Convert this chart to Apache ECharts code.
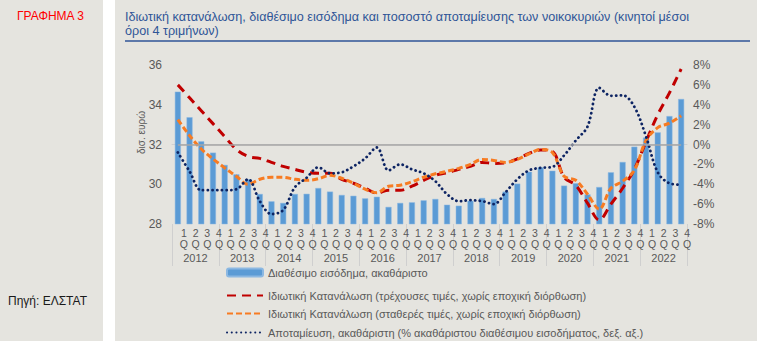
<!DOCTYPE html>
<html>
<head>
<meta charset="utf-8">
<script src="https://cdn.jsdelivr.net/npm/echarts@6/dist/echarts.min.js"></script>
<style>
html,body{margin:0;padding:0;background:#e5e4df;}
#chart{width:757px;height:341px;}
</style>
</head>
<body>
<div id="chart"></div>
<script>
// ---- data ----
const years = ['2012','2013','2014','2015','2016','2017','2018','2019','2020','2021','2022'];
const quarterNums = ['1','2','3','4'];
const categories = [];
years.forEach(y => quarterNums.forEach(q => categories.push(y + 'Q' + q)));

const leftTicks = [28, 36, 2];   // min, max, interval (δισ. ευρώ)
const rightTicks = [-8, 8, 2];   // min, max, interval (%)

// Διαθέσιμο εισόδημα, ακαθάριστο (δισ. ευρώ)
const disposableIncome = [
  34.66, 33.37, 32.16, 31.59,
  30.97, 30.50, 30.25, 29.51,
  29.14, 29.06, 29.51, 29.52,
  29.81, 29.63, 29.46, 29.42,
  29.29, 29.37, 28.86, 29.06,
  29.09, 29.19, 29.26, 28.97,
  28.92, 29.17, 29.31, 29.26,
  29.63, 30.03, 30.63, 30.85,
  30.68, 29.93, 30.05, 29.49,
  29.86, 30.60, 31.12, 31.89,
  32.35, 32.61, 33.43, 34.29
];
// Ιδιωτική Κατανάλωση (τρέχουσες τιμές) %
const consCurrent = [
  6.0, 4.7, 3.4, 2.1,
  0.8, -0.5, -1.2, -1.4,
  -1.8, -2.2, -2.5, -2.8,
  -2.9, -2.9, -3.5, -3.9,
  -4.4, -4.9, -4.6, -4.6,
  -4.2, -3.6, -3.1, -2.85,
  -2.5, -2.2, -1.8, -1.9,
  -1.85, -1.45, -0.9, -0.55,
  -0.7, -3.3, -4.1, -5.9,
  -7.6, -6.0, -4.4, -2.5,
  0.3, 3.0, 5.2, 7.6
];
// Ιδιωτική Κατανάλωση (σταθερές τιμές) %
const consConstant = [
  2.5, 0.9, -0.45, -1.45,
  -2.35, -3.2, -4.0, -3.5,
  -3.3, -3.3, -3.5, -3.6,
  -3.45, -3.1, -3.4, -3.9,
  -4.5, -4.85, -4.2, -4.1,
  -3.75, -3.3, -2.95, -2.7,
  -2.4, -2.0, -1.5, -1.6,
  -1.8, -1.5, -0.95, -0.5,
  -0.8, -3.2, -3.6, -5.0,
  -6.5, -4.4, -3.7, -2.6,
  0.4, 1.7, 2.15, 2.9
];
// Αποταμίευση, ακαθάριστη (% ακαθάριστου διαθέσιμου εισοδήματος)
const savingRate = [
  -0.8, -2.7, -4.6, -4.6,
  -4.6, -4.5, -3.5, -5.7,
  -7.0, -6.6, -4.3, -3.35,
  -2.3, -2.9, -2.8, -2.2,
  -1.4, -0.3, -2.6, -2.0,
  -2.5, -2.9, -3.7, -5.0,
  -5.7, -5.6, -5.7, -6.0,
  -4.8, -3.5, -2.6, -2.35,
  -2.25, -1.1, 0.4, 1.8,
  5.7, 4.9, 4.95, 3.8,
  0.8, -2.8, -3.9, -4.05
];

const names = [
  'Διαθέσιμο εισόδημα, ακαθάριστο',
  'Ιδιωτική Κατανάλωση (τρέχουσες τιμές, χωρίς εποχική διόρθωση)',
  'Ιδιωτική Κατανάλωση (σταθερές τιμές, χωρίς εποχική διόρθωση)',
  'Αποταμίευση, ακαθάριστη (% ακαθάριστου διαθέσιμου εισοδήματος, δεξ. αξ.)'
];

const FONT = '"Liberation Sans", Arial, sans-serif';
const GRAY = '#595959';

const chart = echarts.init(document.getElementById('chart'), null, {renderer: 'svg'});

function legendItem(name, top, hideSymbol) {
  return {
    data: [hideSymbol ? {name: name, itemStyle: {opacity: 0}} : {name: name}],
    left: 226, top: top, orient: 'vertical',
    itemWidth: 36, itemHeight: 8, itemGap: 0, padding: 0,
    textStyle: {color: GRAY, fontSize: 11, fontFamily: FONT},
    selectedMode: false
  };
}

chart.setOption({
  backgroundColor: '#e5e4df',
  animation: false,
  textStyle: {fontFamily: FONT},
  title: {
    text: 'Ιδιωτική κατανάλωση, διαθέσιμο εισόδημα και ποσοστό αποταμίευσης των νοικοκυριών (κινητοί μέσοι\nόροι 4 τριμήνων)',
    left: 120, top: 5,
    textStyle: {color: '#2f5597', fontSize: 12.6, fontWeight: 'normal', lineHeight: 14, fontFamily: FONT}
  },
  graphic: [
    {type: 'rect', left: 103, top: 0, shape: {width: 12, height: 341}, style: {fill: '#ffffff'}, silent: true},
    {type: 'line', shape: {x1: 125, y1: 41, x2: 750, y2: 41}, style: {stroke: '#2f5597', lineWidth: 1.5}, silent: true},
    {type: 'text', left: 17, top: 10, style: {text: 'ΓΡΑΦΗΜΑ 3', fill: '#ff0000', fontSize: 12, fontFamily: FONT}, silent: true},
    {type: 'text', left: 8, top: 295, style: {text: 'Πηγή: ΕΛΣΤΑΤ', fill: '#1a1a1a', fontSize: 12, fontFamily: FONT}, silent: true},
    {type: 'text', x: 136, y: 154, rotation: Math.PI / 2, style: {text: 'δισ. ευρώ', fill: GRAY, fontSize: 10, fontFamily: FONT}, silent: true}
  ],
  legend: [
    legendItem(names[0], 267, false),
    legendItem(names[1], 290, true),
    legendItem(names[2], 308, true),
    legendItem(names[3], 327, true)
  ],
  grid: [
    {left: 172, right: 70, top: 65, bottom: 117},
    {left: 178, right: 64, top: 65, bottom: 117}
  ],
  xAxis: [
    {
      type: 'category', data: categories, boundaryGap: true, gridIndex: 0,
      axisLine: {show: true, lineStyle: {color: '#d0d0d0'}},
      axisTick: {show: false},
      axisLabel: {show: false},
      splitLine: {show: false}
    },
    {
      type: 'category', data: years, position: 'bottom', boundaryGap: true, gridIndex: 0,
      axisLine: {show: false},
      axisTick: {show: true, interval: 0, length: 42, lineStyle: {color: '#cfcfcf'}},
      axisLabel: {interval: 0, margin: 28, color: GRAY, fontSize: 11},
      splitLine: {show: false}
    },
    {
      type: 'category', data: categories, boundaryGap: true, gridIndex: 1,
      axisLine: {show: false}, axisTick: {show: false}, splitLine: {show: false},
      axisLabel: {
        interval: 0, margin: 4, color: GRAY, fontSize: 10.5, lineHeight: 10.5,
        formatter: v => v.slice(5) + '\nQ'
      }
    }
  ],
  yAxis: [
    {
      type: 'value', min: leftTicks[0], max: leftTicks[1], interval: leftTicks[2], gridIndex: 0,
      axisLine: {show: false}, axisTick: {show: false}, splitLine: {show: false},
      axisLabel: {color: GRAY, fontSize: 12, margin: 10}
    },
    {
      type: 'value', min: rightTicks[0], max: rightTicks[1], interval: rightTicks[2], gridIndex: 0,
      position: 'right',
      axisLine: {show: false}, axisTick: {show: false}, splitLine: {show: false},
      axisLabel: {color: GRAY, fontSize: 12, margin: 6, formatter: '{value}%'}
    },
    {
      type: 'value', gridIndex: 1, show: false
    }
  ],
  series: [
    {
      name: names[0], type: 'bar', data: disposableIncome, xAxisIndex: 0, yAxisIndex: 0,
      barWidth: 6,
      itemStyle: {color: '#5b9bd5', borderColor: '#8cb8e2', borderWidth: 0.5},
      markLine: {
        silent: true, symbol: 'none', label: {show: false},
        lineStyle: {color: '#a6a6a6', width: 1.5, type: 'solid'},
        data: [[{coord: [categories[0], 32]}, {coord: [categories[categories.length - 1], 32]}]]
      }
    },
    {
      name: names[1], type: 'line', data: consCurrent, xAxisIndex: 0, yAxisIndex: 1,
      smooth: 0.35, symbol: 'none', showSymbol: false,
      lineStyle: {color: '#c00000', width: 3, type: [9, 6]},
      itemStyle: {color: '#c00000'}
    },
    {
      name: names[2], type: 'line', data: consConstant, xAxisIndex: 0, yAxisIndex: 1,
      smooth: 0.35, symbol: 'none', showSymbol: false,
      lineStyle: {color: '#f77b22', width: 3, type: [6, 3]},
      itemStyle: {color: '#f77b22'}
    },
    {
      name: names[3], type: 'line', data: savingRate, xAxisIndex: 0, yAxisIndex: 1,
      smooth: 0.35, symbol: 'none', showSymbol: false,
      lineStyle: {color: '#0d2463', width: 2.8, type: [0.1, 4.6], cap: 'round'},
      itemStyle: {color: '#0d2463'}
    }
  ]
});
</script>
</body>
</html>
